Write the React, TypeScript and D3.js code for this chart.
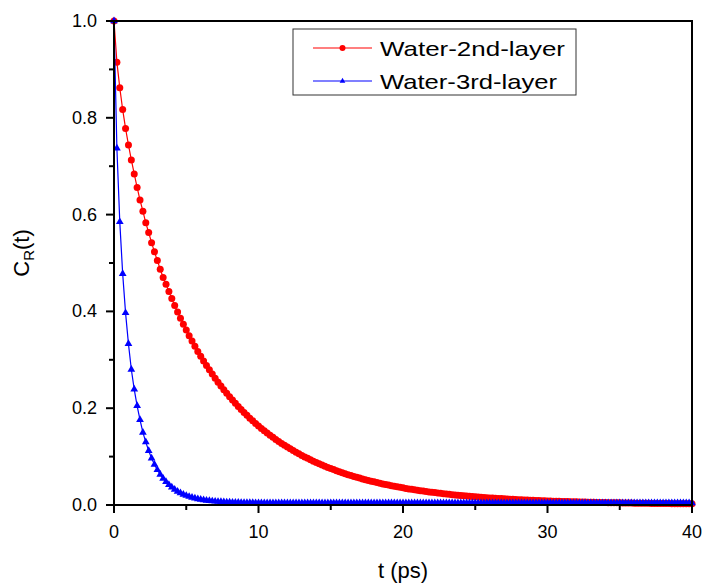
import React from "react";
import * as d3 from "d3";

const W = 706;
const H = 586;
const STEP = 0.2; // ps between samples

const seriesNames = ["Water-2nd-layer", "Water-3rd-layer"];
const xTicks = [0, 10, 20, 30, 40];
const xMinorTicks = [5, 15, 25, 35];
const yTicks = [0, 0.2, 0.4, 0.6, 0.8, 1.0];
const yMinorTicks = [0.1, 0.3, 0.5, 0.7, 0.9];

const redValues = [
  1.0, 0.915, 0.862, 0.817, 0.778, 0.744, 0.713, 0.684, 0.656, 0.630,
  0.607, 0.583, 0.563, 0.542, 0.523, 0.505, 0.487, 0.470,
  0.4562, 0.4410, 0.4264, 0.4124, 0.3989, 0.3859, 0.3734, 0.3614, 0.3498, 0.3386,
  0.3278, 0.3174, 0.3074, 0.2977, 0.2883, 0.2792, 0.2705, 0.2620, 0.2538, 0.2459,
  0.2382, 0.2308, 0.2236, 0.2167, 0.2100, 0.2034, 0.1972, 0.1911, 0.1852, 0.1794,
  0.1739, 0.1686, 0.1634,
  0.1583, 0.1535, 0.1488, 0.1442, 0.1398, 0.1355, 0.1314, 0.1273, 0.1234, 0.1197,
  0.1160, 0.1125, 0.1090, 0.1057, 0.1025, 0.0994, 0.0964, 0.0934, 0.0906, 0.0879,
  0.0852, 0.0826, 0.0801, 0.0777, 0.0754, 0.0731, 0.0709, 0.0688, 0.0667, 0.0647,
  0.0627, 0.0609, 0.0590, 0.0573, 0.0556, 0.0539, 0.0523, 0.0507, 0.0492, 0.0478,
  0.0463, 0.0450, 0.0436, 0.0423, 0.0411, 0.0399, 0.0387, 0.0376, 0.0365, 0.0354,
  0.0343, 0.0333, 0.0324, 0.0314, 0.0305, 0.0296, 0.0287, 0.0279, 0.0271, 0.0263,
  0.0256, 0.0248, 0.0241, 0.0234, 0.0227, 0.0221, 0.0214, 0.0208, 0.0202, 0.0197,
  0.0191, 0.0185, 0.0180, 0.0175, 0.0170, 0.0165, 0.0161, 0.0156, 0.0152, 0.0147,
  0.0143, 0.0139, 0.0135, 0.0132, 0.0128, 0.0124, 0.0121, 0.0118, 0.0114, 0.0111,
  0.0108, 0.0105, 0.0102, 0.0100, 0.0097, 0.0094, 0.0092, 0.0089, 0.0087, 0.0084,
  0.0082, 0.0080, 0.0078, 0.0076, 0.0074, 0.0072, 0.0070, 0.0068, 0.0066, 0.0065,
  0.0063, 0.0061, 0.0060, 0.0058, 0.0057, 0.0055, 0.0054, 0.0052, 0.0051, 0.0050,
  0.0048, 0.0047, 0.0046, 0.0045, 0.0044, 0.0043, 0.0042, 0.0040, 0.0039, 0.0038,
  0.0038, 0.0037, 0.0036, 0.0035, 0.0034, 0.0033, 0.0032, 0.0032, 0.0031, 0.0030,
  0.0029, 0.0029, 0.0028, 0.0027, 0.0027, 0.0026, 0.0025, 0.0025, 0.0024, 0.0024,
];

const blueValues = [
  1.0, 0.737, 0.585, 0.478, 0.397, 0.333, 0.280, 0.239, 0.205, 0.176,
  0.150, 0.130, 0.112, 0.0965,
  0.0837, 0.0726, 0.0631, 0.0549, 0.0479, 0.0418, 0.0365, 0.0320, 0.0281, 0.0248,
  0.0219, 0.0194, 0.0173, 0.0154, 0.0139, 0.0125, 0.0113, 0.0103, 0.0094, 0.0087,
  0.0080, 0.0075, 0.0070, 0.0066, 0.0062, 0.0059, 0.0056, 0.0054, 0.0052, 0.0051,
  0.0049, 0.0048, 0.0047, 0.0046, 0.0045, 0.0044, 0.0044,
  0.0043, 0.0043, 0.0042, 0.0042, 0.0042, 0.0041, 0.0041, 0.0041, 0.0041, 0.0040,
  0.004, 0.004, 0.004, 0.004, 0.004, 0.004, 0.004, 0.004, 0.004, 0.004,
  0.004, 0.004, 0.004, 0.004, 0.004, 0.004, 0.004, 0.004, 0.004, 0.004,
  0.004, 0.004, 0.004, 0.004, 0.004, 0.004, 0.004, 0.004, 0.004, 0.004,
  0.004, 0.004, 0.004, 0.004, 0.004, 0.004, 0.004, 0.004, 0.004, 0.004,
  0.004, 0.004, 0.004, 0.004, 0.004, 0.004, 0.004, 0.004, 0.004, 0.004,
  0.004, 0.004, 0.004, 0.004, 0.004, 0.004, 0.004, 0.004, 0.004, 0.004,
  0.004, 0.004, 0.004, 0.004, 0.004, 0.004, 0.004, 0.004, 0.004, 0.004,
  0.004, 0.004, 0.004, 0.004, 0.004, 0.004, 0.004, 0.004, 0.004, 0.004,
  0.004, 0.004, 0.004, 0.004, 0.004, 0.004, 0.004, 0.004, 0.004, 0.004,
  0.004, 0.004, 0.004, 0.004, 0.004, 0.004, 0.004, 0.004, 0.004, 0.004,
  0.004, 0.004, 0.004, 0.004, 0.004, 0.004, 0.004, 0.004, 0.004, 0.004,
  0.004, 0.004, 0.004, 0.004, 0.004, 0.004, 0.004, 0.004, 0.004, 0.004,
  0.004, 0.004, 0.004, 0.004, 0.004, 0.004, 0.004, 0.004, 0.004, 0.004,
  0.004, 0.004, 0.004, 0.004, 0.004, 0.004, 0.004, 0.004, 0.004, 0.004,
];

const FONT = "'Liberation Sans', Arial, Helvetica, sans-serif";
const RED = "#ff0000";
const BLUE = "#0000ff";

export default function App() {
  const m = { l: 114, r: 692, t: 21, b: 505 };
  const x = d3.scaleLinear().domain([0, 40]).range([m.l, m.r]);
  const y = d3.scaleLinear().domain([0, 1]).range([m.b, m.t]);
  const line = d3
    .line<number>()
    .x((_, i) => x(i * STEP))
    .y((d) => y(d));
  const tri = d3.symbol().type(d3.symbolTriangle).size(26)() as string;
  const triLegend = d3.symbol().type(d3.symbolTriangle).size(14)() as string;

  return (
    <svg
      width={W}
      height={H}
      style={{ position: "absolute", left: 0, top: 0, background: "#fff" }}
      fontFamily={FONT}
    >
      <rect x={0} y={0} width={W} height={H} fill="#fff" />

      {/* red series */}
      <path d={line(redValues) || ""} fill="none" stroke={RED} strokeWidth={1.2} />
      {redValues.map((v, i) => (
        <circle key={"r" + i} cx={x(i * STEP)} cy={y(v)} r={3.5} fill={RED} />
      ))}

      {/* blue series */}
      <path d={line(blueValues) || ""} fill="none" stroke={BLUE} strokeWidth={1.2} />
      {blueValues.map((v, i) => (
        <path
          key={"b" + i}
          d={tri}
          transform={`translate(${x(i * STEP)},${y(v)})`}
          fill={BLUE}
        />
      ))}

      {/* frame */}
      <rect
        x={m.l}
        y={m.t}
        width={m.r - m.l}
        height={m.b - m.t}
        fill="none"
        stroke="#000"
        strokeWidth={2}
      />

      {/* x ticks */}
      {xTicks.map((t) => (
        <g key={"xt" + t}>
          <line x1={x(t)} x2={x(t)} y1={m.b} y2={m.b + 8} stroke="#000" strokeWidth={2} />
          <text x={x(t)} y={538} fontSize={18} textAnchor="middle" fill="#000">
            {t}
          </text>
        </g>
      ))}
      {xMinorTicks.map((t) => (
        <line key={"xm" + t} x1={x(t)} x2={x(t)} y1={m.b} y2={m.b + 5} stroke="#000" strokeWidth={2} />
      ))}

      {/* y ticks */}
      {yTicks.map((t) => (
        <g key={"yt" + t}>
          <line x1={m.l - 8} x2={m.l} y1={y(t)} y2={y(t)} stroke="#000" strokeWidth={2} />
          <text
            x={97}
            y={y(t)}
            fontSize={18}
            textAnchor="end"
            dominantBaseline="central"
            fill="#000"
          >
            {t.toFixed(1)}
          </text>
        </g>
      ))}
      {yMinorTicks.map((t) => (
        <line key={"ym" + t} x1={m.l - 5} x2={m.l} y1={y(t)} y2={y(t)} stroke="#000" strokeWidth={2} />
      ))}

      {/* axis titles */}
      <text x={(m.l + m.r) / 2} y={578} fontSize={22} textAnchor="middle" fill="#000">
        t (ps)
      </text>
      <text
        transform={`translate(29,${(m.t + m.b) / 2 - 10}) rotate(-90)`}
        fontSize={22}
        textAnchor="middle"
        fill="#000"
      >
        C<tspan fontSize={15} dy={5}>R</tspan>
        <tspan dy={-5}>(t)</tspan>
      </text>

      {/* legend */}
      <rect x={293} y={29} width={283} height={66} fill="#fff" stroke="#333" strokeWidth={1} />
      <line x1={313} x2={372} y1={48} y2={48} stroke={RED} strokeWidth={1.2} />
      <circle cx={342.5} cy={48} r={3} fill={RED} />
      <text x={380} y={55.5} fontSize={21} textLength={185} lengthAdjust="spacingAndGlyphs" fill="#000">
        {seriesNames[0]}
      </text>
      <line x1={313} x2={372} y1={81} y2={81} stroke={BLUE} strokeWidth={1.2} />
      <path d={triLegend} transform="translate(342.5,81)" fill={BLUE} />
      <text x={380} y={88.5} fontSize={21} textLength={177} lengthAdjust="spacingAndGlyphs" fill="#000">
        {seriesNames[1]}
      </text>
    </svg>
  );
}
